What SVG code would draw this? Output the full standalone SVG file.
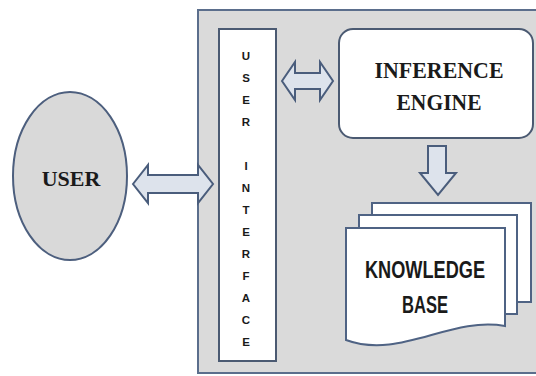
<svg xmlns="http://www.w3.org/2000/svg" width="536" height="376" viewBox="0 0 536 376">
  <defs>
    <style>
      .frame { fill: #dadada; stroke: #5b6e8c; stroke-width: 2; }
      .box { fill: #ffffff; stroke: #4b5a72; stroke-width: 2; }
      .sheet { fill: #ffffff; stroke: #4f6384; stroke-width: 2; }
      .user { fill: #d9d9d9; stroke: #4d5f7e; stroke-width: 2; }
      .arrow { fill: #dde3ec; stroke: #4a5d7c; stroke-width: 2; stroke-linejoin: miter; }
      .serif { font-family: "Liberation Serif", "Times New Roman", serif; font-weight: bold; fill: #1a1a1a; text-anchor: middle; }
      .sans { font-family: "Liberation Sans", Arial, sans-serif; font-weight: bold; fill: #1a1a1a; text-anchor: middle; }
      .vert { font-size: 11.5px; }
    </style>
  </defs>

  <!-- system boundary -->
  <rect id="system" class="frame" x="198" y="10" width="345" height="363"/>

  <!-- user -->
  <g id="user">
    <ellipse class="user" cx="70" cy="176" rx="57" ry="84"/>
    <text class="serif" x="71" y="186" font-size="22">USER</text>
  </g>

  <!-- user interface column, letters stacked one per line -->
  <g id="user-interface">
    <rect class="box" x="219" y="29" width="57" height="332"/>
    <g class="sans vert">
      <text x="246" y="60">U</text>
      <text x="246" y="82">S</text>
      <text x="246" y="104">E</text>
      <text x="246" y="126">R</text>
      <text x="246" y="170">I</text>
      <text x="246" y="192">N</text>
      <text x="246" y="214">T</text>
      <text x="246" y="236">E</text>
      <text x="246" y="258">R</text>
      <text x="246" y="280">F</text>
      <text x="246" y="302">A</text>
      <text x="246" y="324">C</text>
      <text x="246" y="346">E</text>
    </g>
  </g>

  <!-- inference engine -->
  <g id="inference-engine">
    <rect class="box" x="339" y="29" width="194" height="109" rx="14" ry="14"/>
    <text class="serif" x="439" y="78" font-size="24" textLength="129" lengthAdjust="spacingAndGlyphs">INFERENCE</text>
    <text class="serif" x="439" y="110" font-size="24" textLength="85" lengthAdjust="spacingAndGlyphs">ENGINE</text>
  </g>

  <!-- knowledge base: stacked documents -->
  <g id="knowledge-base">
    <rect class="sheet" x="372" y="203" width="159" height="99"/>
    <rect class="sheet" x="359" y="215" width="158" height="99"/>
    <path class="sheet" d="M346,228 H505 V326 C450,316 400,360 346,340 Z"/>
    <text class="sans" x="425" y="278" font-size="23" textLength="120" lengthAdjust="spacingAndGlyphs">KNOWLEDGE</text>
    <text class="sans" x="425" y="313" font-size="23" textLength="46" lengthAdjust="spacingAndGlyphs">BASE</text>
  </g>

  <!-- connectors -->
  <g id="connectors">
    <!-- user <-> interface -->
    <path class="arrow" d="M133,184 L148,165 L148,175 L198,175 L198,165 L213,184 L198,203 L198,193 L148,193 L148,203 Z"/>
    <!-- interface <-> inference engine -->
    <path class="arrow" d="M282,81 L295,62 L295,73 L320,73 L320,62 L333,81 L320,100 L320,89 L295,89 L295,100 Z"/>
    <!-- inference engine -> knowledge base -->
    <path class="arrow" d="M428,146 L446,146 L446,173 L456,173 L438,195 L420,173 L428,173 Z"/>
  </g>
</svg>
